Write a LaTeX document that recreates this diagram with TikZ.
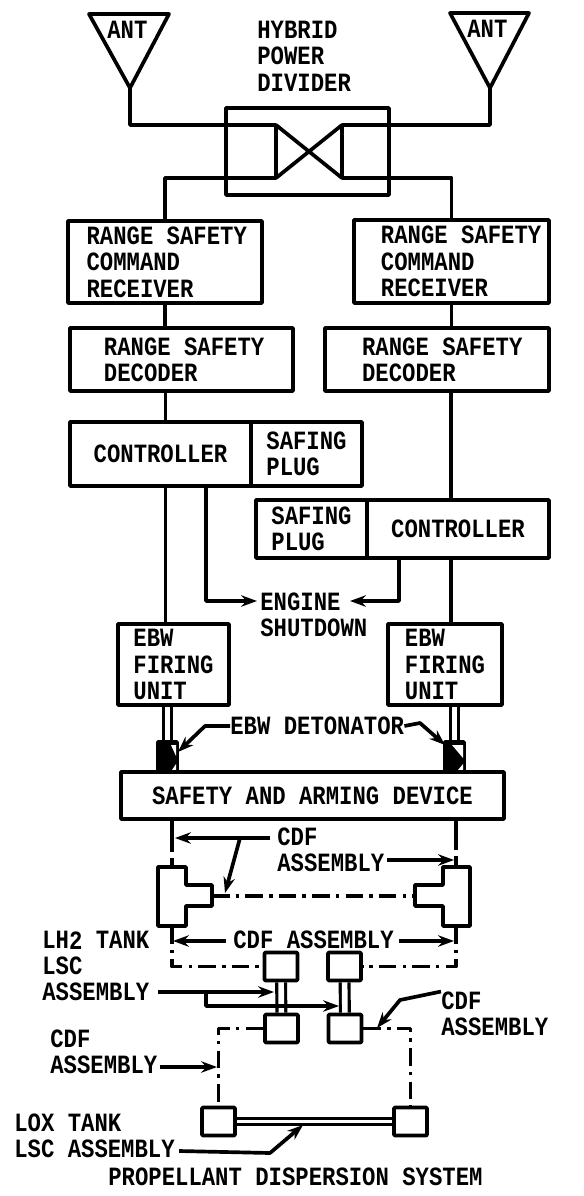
\documentclass[tikz,border=0pt]{standalone}
\usepackage{fontspec}
\newfontfamily\lblfont[FakeStretch=0.845]{Liberation Mono Bold}
\usetikzlibrary{arrows.meta}

\begin{document}
\begin{tikzpicture}[x=0.02cm, y=-0.02cm,
  wire/.style={line width=2.1pt, line join=round},
  link/.style={wire, -{Stealth[length=9pt,width=6.5pt]}},
  cdf/.style={line width=1.9pt, dash pattern=on 10pt off 3.5pt on 2pt off 3.5pt, line join=round},
  pipe/.style={double, line width=1.8pt, double distance=3.2pt},
  blk/.style={draw, wire, inner sep=0pt, align=left, font=\lblfont\fontsize{15}{15}\selectfont},
  boxsize/.style 2 args={minimum width=#1*0.02cm, minimum height=#2*0.02cm},
  lsc/.style={draw, wire, rounded corners=0.5pt, boxsize={33}{28}},
  txt/.style={anchor=west, inner sep=0pt, align=left, font=\lblfont\fontsize{15}{15}\selectfont}]
\useasboundingbox (0,0) rectangle (584,1196);
% antennas
\coordinate (antl) at (130,88); \coordinate (antr) at (490,88);
\draw[wire] (antl) -- (89,14) -- (169,14) -- cycle;
\draw[wire] (antr) -- (450,13) -- (529,13) -- cycle;
\node[txt] (antlt) at (107,30) {ANT};
\node[txt] (antrt) at (467,29) {ANT};
% hybrid
\node[txt] (hybt) at (257,56) {HYBRID\\POWER\\DIVIDER};
\node[blk, boxsize={163}{87}] (hyb) at (307.5,151.5) {};
\coordinate (hybnw) at (276,125); \coordinate (hybsw) at (276,178);
\coordinate (hybne) at (342,125); \coordinate (hybse) at (342,178);
\draw[wire] (hybnw) -- (hybsw) -- (hybne) -- (hybse) -- cycle;
\draw[wire] (antl) |- (hybnw);
\draw[wire] (antr) |- (hybne);
% range safety chains
\node[blk, boxsize={194}{82}] (rxl) at (165,262) {\hspace*{2pt}RANGE SAFETY\\\hspace*{2pt}COMMAND\\\hspace*{2pt}RECEIVER};
\node[blk, boxsize={195}{83}] (rxr) at (451.5,261.5) {\hspace*{11pt}RANGE SAFETY\\\hspace*{11pt}COMMAND\\\hspace*{11pt}RECEIVER};
\node[blk, boxsize={223}{63}] (decl) at (181.5,359.5) {\hspace*{3pt}RANGE SAFETY\\\hspace*{3pt}DECODER};
\node[blk, boxsize={224}{63}] (decr) at (437,359.5) {\hspace*{6pt}RANGE SAFETY\\\hspace*{6pt}DECODER};
\node[blk, boxsize={181}{64}] (ctll) at (160.5,454) {CONTROLLER};
\node[blk, boxsize={111}{64}] (safl) at (306.5,454) {SAFING\\PLUG};
\node[blk, boxsize={111}{58}] (safr) at (311.5,529) {SAFING\\PLUG};
\node[blk, boxsize={182}{58}] (ctlr) at (458,529) {CONTROLLER};
\node[blk, boxsize={111}{81}] (ebwl) at (173.5,664.5) {EBW\\FIRING\\UNIT};
\node[blk, boxsize={114}{81}] (ebwr) at (445,664.5) {EBW\\FIRING\\UNIT};
\coordinate (busl) at (165.5,0); \coordinate (busr) at (451,0);
\draw[wire] (hybsw) -| (rxl.north);
\draw[wire] (hybse) -| (rxr.north);
\foreach \s in {l,r}{
  \draw[wire] (rx\s.south) -- (rx\s.south |- dec\s.north);
  \draw[wire] (dec\s.south -| bus\s) -- (ctl\s.north -| bus\s);
  \draw[wire] (ctl\s.south -| bus\s) -- (ebw\s.north -| bus\s);
}
% engine shutdown
\node[txt] (eng) at (260,614.5) {ENGINE\\SHUTDOWN};
\coordinate (engl) at (257,601); \coordinate (engr) at (350,601);
\coordinate (tapl) at (206,0); \coordinate (tapr) at (399,0);
\draw[link] (ctll.south -| tapl) |- (engl);
\draw[link] (ctlr.south -| tapr) |- (engr);
% detonators
\node[blk, boxsize={19}{30}, fill=black] (detl) at (167.5,757) {};
\node[blk, boxsize={19}{30}, fill=black] (detr) at (454.5,757) {};
\fill[white] (171,745) -- (176,745) -- (176,756) -- cycle;
\fill[white] (172,770) -- (176,770) -- (176,764) -- cycle;
\fill[white] (452,745) -- (463,745) -- (463,758) -- cycle;
\fill[white] (458,770) -- (463,770) -- (463,764) -- cycle;
\draw[pipe] (ebwl.south -| detl) -- (detl.north);
\draw[pipe] (ebwr.south -| detr) -- (detr.north);
\node[txt] (det) at (230,726) {EBW DETONATOR};
\coordinate (detla) at (205,726); \coordinate (detra) at (420,723);
\draw[link] (det.west) -- (detla) -- (178,752);
\draw[link] (det.east) -- (detra) -- (445,745);
% safety and arming
\node[blk, boxsize={383}{47}] (saf) at (312.5,795.5) {SAFETY AND ARMING DEVICE};
% tees
\coordinate (tlt) at (172,867); \coordinate (tlb) at (172,926); \coordinate (tlr) at (212,896);
\coordinate (trt) at (456,867); \coordinate (trb) at (456,926); \coordinate (trl) at (415,896);
\draw[wire] (158,867) -- (186,867) -- (186,885) -- (212,885) -- (212,906) -- (186,906) -- (186,926) -- (158,926) -- cycle;
\draw[wire] (470,867) -- (443,867) -- (443,885) -- (415,885) -- (415,906) -- (443,906) -- (443,926) -- (470,926) -- cycle;
\draw[wire] (saf.south -| tlt) -- ++(0,31); \draw[wire] (tlt) -- ++(0,-9);
\draw[wire] (saf.south -| trt) -- ++(0,29); \draw[wire] (trt) -- ++(0,-11);
\draw[cdf] (tlr) -- (trl);
\node[txt] (cdfa) at (277,849.5) {CDF\\ASSEMBLY};
\node[txt] (cdfb) at (233,940) {CDF ASSEMBLY};
\coordinate (cdfas) at (270,838); \coordinate (cdfat) at (240,838);
\draw[link] (cdfas) -- (175,838);
\draw[link] (cdfat) -- (225,893);
\draw[link] (387,860) -- (454,860);
\draw[link] (cdfb.west) ++(-7,1) -- (173,941);
\draw[link] (cdfb.east) ++(5,1) -- (454,941);
% lsc boxes
\node[lsc] (lscua) at (281,966.5) {};
\node[lsc] (lscub) at (344.5,966.5) {};
\node[lsc] (lscla) at (281.5,1028.5) {};
\node[lsc] (lsclb) at (345,1028.5) {};
\node[lsc] (loxl) at (218.5,1121.5) {};
\node[lsc] (loxr) at (410.5,1121.5) {};
\draw[pipe] (lscua) -- (lscla);
\draw[pipe] (lscub) -- (lsclb);
\draw[pipe, double distance=2pt] (loxl) -- (loxr);
\draw[cdf] (tlb) |- (lscua.west);
\draw[cdf] (trb) |- (lscub.east);
\draw[cdf] (lscla.west) -| (loxl.north);
\draw[cdf] (lsclb.east) -| (loxr.north);
% labels
\node[txt] (lsct) at (42,966) {LH\raisebox{-1pt}{2} TANK\\LSC\\ASSEMBLY};
\coordinate (lsca) at (158,992); \coordinate (lscb) at (206,992);
\draw[link] (lsca) -- (274,992);
\draw[link] (lscb) |- (339,1006);
\node[txt] (cdfc) at (441,1014) {CDF\\ASSEMBLY};
\draw[link] (cdfc.north west) -- (400,1000) -- (377,1028);
\node[txt] (cdfd) at (50,1051.5) {CDF\\ASSEMBLY};
\draw[link] (160,1067) -- (217,1067);
\node[txt] (loxt) at (14,1136) {LOX TANK\\LSC ASSEMBLY};
\coordinate (loxa) at (270,1153);
\draw[link] (loxt.east) ++(4,15) -- (loxa) -- (303,1125);
\node[txt] (title) at (108,1177) {PROPELLANT DISPERSION SYSTEM};
\end{tikzpicture}
\end{document}
